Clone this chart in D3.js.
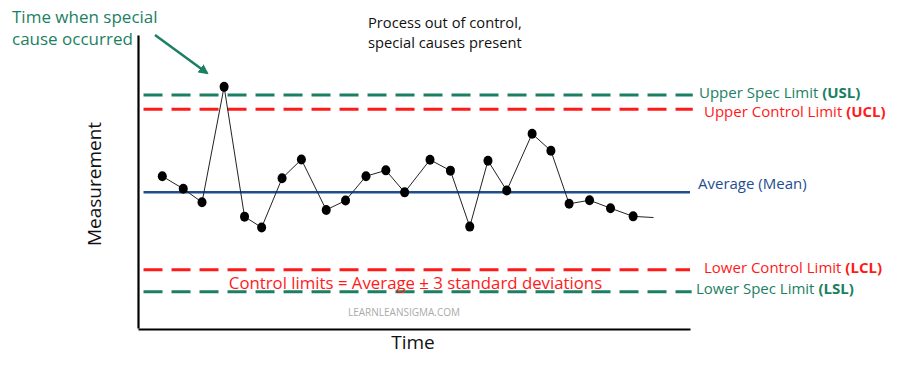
<!DOCTYPE html>
<html>
<head>
<meta charset="utf-8">
<script src="https://cdn.jsdelivr.net/npm/d3@7"></script>
<style>
  html, body { margin: 0; padding: 0; background: #fff; overflow: hidden; }
  svg { display: block; }
  text { font-family: "Open Sans", "Noto Sans", sans-serif; }
</style>
</head>
<body>
<svg id="chart"></svg>
<script>
// size
const width = 900;
const height = 367;

// plot area (axes corner at left/bottom)
const margin = { top: 35, right: 210, bottom: 39, left: 138 };
const innerWidth = width - margin.left - margin.right;
const innerHeight = height - margin.top - margin.bottom;

// data: time (0-100) and measurement (0-100)
const times = [4.4, 8.2, 11.6, 15.6, 19.3, 22.4, 26.1, 29.6, 34.1, 37.6, 41.3, 44.9,
               48.3, 52.9, 56.6, 60.1, 63.4, 66.8, 71.4, 74.8, 78.1, 81.8, 85.6, 89.7];
const values = [51.8, 47.5, 42.9, 82.3, 38.0, 34.3, 51.1, 57.5, 40.3, 43.5, 51.8, 53.8,
                46.3, 57.4, 53.7, 34.6, 57.1, 46.9, 66.3, 60.5, 42.4, 43.6, 40.9, 38.1];
// trailing segment after the last sample (no marker)
const tailTime = 93.4;
const tailValue = 37.7;

// reference lines
const limitNames = ["USL", "UCL", "Average", "LCL", "LSL"];
const limitValues = [79.5, 74.7, 46.3, 19.9, 12.4];
const limitLabels = ["Upper Spec Limit ", "Upper Control Limit ", "Average (Mean)", "Lower Control Limit ", "Lower Spec Limit "];
const limitAbbr = ["(USL)", "(UCL)", "", "(LCL)", "(LSL)"];
const limitStart = 1;
const limitEnd = [100.5, 100.5, 100, 100, 100.3];

const green = "#1b7f64";
const red = "#ff1a1a";
const blue = "#1f4e8f";
const colorOf = { USL: green, UCL: red, Average: blue, LCL: red, LSL: green };

const svg = d3.select("#chart")
    .attr("width", width)
    .attr("height", height);

const xScale = d3.scaleLinear().domain([0, 100]).range([0, innerWidth]);
const yScale = d3.scaleLinear().domain([0, 100]).range([innerHeight, 0]);

const g = svg.append("g")
    .attr("transform", `translate(${margin.left},${margin.top})`);

// reference lines
limitNames.forEach((name, i) => {
    g.append("line")
        .attr("x1", xScale(limitStart))
        .attr("x2", xScale(limitEnd[i]))
        .attr("y1", yScale(limitValues[i]))
        .attr("y2", yScale(limitValues[i]))
        .attr("stroke", colorOf[name])
        .attr("stroke-width", name === "Average" ? 2.5 : 3)
        .attr("stroke-dasharray", name === "Average" ? null : "19,9");
});

// process line
const pts = times.map((t, i) => ({ t, v: values[i] }));
const linePts = pts.concat([{ t: tailTime, v: tailValue }]);
g.append("path")
    .datum(linePts)
    .attr("fill", "none")
    .attr("stroke", "#222")
    .attr("stroke-width", 1)
    .attr("d", d3.line().x(d => xScale(d.t)).y(d => yScale(d.v)));

g.selectAll("ellipse.pt")
    .data(pts)
    .enter()
    .append("ellipse")
    .attr("class", "pt")
    .attr("cx", d => xScale(d.t))
    .attr("cy", d => yScale(d.v))
    .attr("rx", 4.5)
    .attr("ry", 5)
    .attr("fill", "#000");

// axes (plain lines, no ticks)
const xAxis = d3.axisBottom(xScale).ticks(0).tickSize(0).tickFormat("");
const yAxis = d3.axisLeft(yScale).ticks(0).tickSize(0).tickFormat("");
g.append("g")
    .attr("transform", `translate(0,${innerHeight + 1})`)
    .call(xAxis)
    .call(a => a.select(".domain").attr("stroke", "#000").attr("stroke-width", 2.2));
g.append("g")
    .call(yAxis)
    .call(a => a.select(".domain").attr("stroke", "#000").attr("stroke-width", 2.2));

// right-hand labels
const labelX = [699, 704, 698, 704, 696];
const labelDy = [-2, 3, -8.7, -2, -2.7];
limitNames.forEach((name, i) => {
    const t = svg.append("text")
        .attr("x", labelX[i])
        .attr("y", margin.top + yScale(limitValues[i]) + labelDy[i] + 5)
        .attr("fill", colorOf[name])
        .style("font-size", "15px");
    t.append("tspan").text(limitLabels[i]);
    if (limitAbbr[i]) t.append("tspan").attr("font-weight", "bold").text(limitAbbr[i]);
});

// control limits note
svg.append("text")
    .attr("x", 415.5)
    .attr("y", 289)
    .attr("text-anchor", "middle")
    .attr("fill", red)
    .style("font-size", "16.8px")
    .text("Control limits = Average \u00b1 3 standard deviations");

// watermark
svg.append("text")
    .attr("x", 404)
    .attr("y", 316)
    .attr("text-anchor", "middle")
    .attr("fill", "#aaa")
    .style("font-size", "10px")
    .text("LEARNLEANSIGMA.COM");

// title
const title = svg.append("text")
    .attr("x", 368)
    .attr("fill", "#111")
    .style("font-size", "14.7px");
title.append("tspan").attr("x", 368).attr("y", 28).text("Process out of control,");
title.append("tspan").attr("x", 368).attr("y", 48).text("special causes present");

// annotation
const note = svg.append("text")
    .attr("fill", green)
    .style("font-size", "17px");
note.append("tspan").attr("x", 12).attr("y", 23).text("Time when special");
note.append("tspan").attr("x", 12).attr("y", 45).text("cause occurred");

svg.append("defs").append("marker")
    .attr("id", "arrow")
    .attr("viewBox", "0 0 10 10")
    .attr("refX", 8)
    .attr("refY", 5)
    .attr("markerWidth", 4)
    .attr("markerHeight", 4)
    .attr("orient", "auto")
    .append("path")
    .attr("d", "M0,0L10,5L0,10Z")
    .attr("fill", green);

svg.append("line")
    .attr("x1", 155)
    .attr("y1", 35)
    .attr("x2", 207)
    .attr("y2", 73)
    .attr("stroke", green)
    .attr("stroke-width", 2.5)
    .attr("marker-end", "url(#arrow)");

// axis titles
svg.append("text")
    .attr("x", 413)
    .attr("y", 349)
    .attr("text-anchor", "middle")
    .attr("fill", "#111")
    .style("font-size", "19px")
    .text("Time");

svg.append("text")
    .attr("text-anchor", "middle")
    .attr("transform", `translate(101, 184) rotate(-90)`)
    .attr("fill", "#111")
    .style("font-size", "19px")
    .text("Measurement");
</script>
</body>
</html>
